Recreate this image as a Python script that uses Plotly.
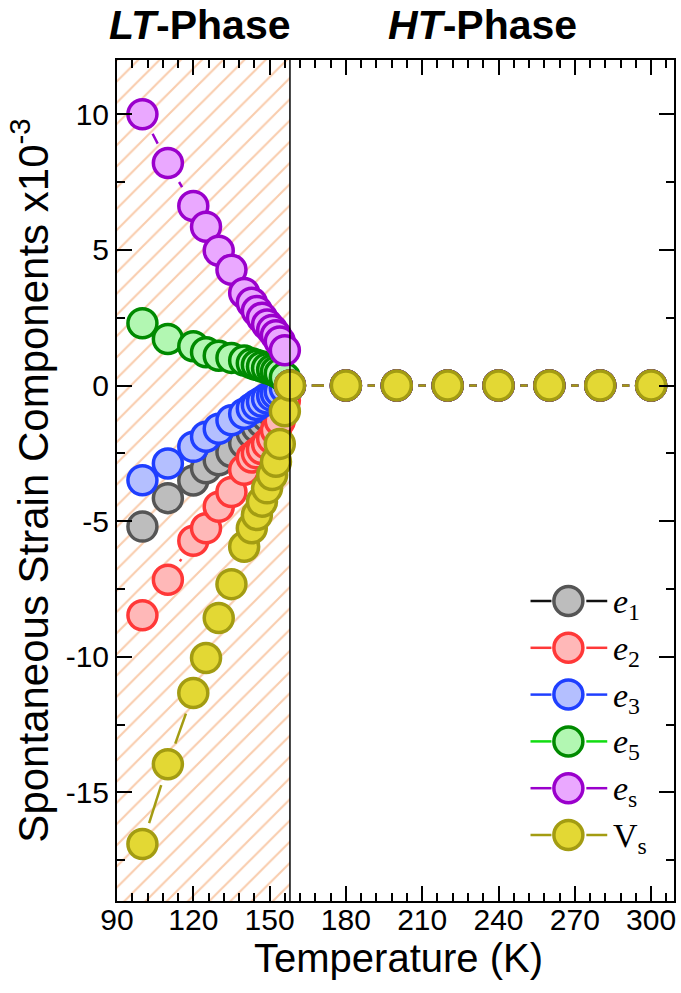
import math
import plotly.graph_objects as go

# Temperature grid (K) and spontaneous strain components (x10^-3)
temperature = [100, 110, 120, 125, 130, 135, 140, 143, 145, 147, 149, 151, 152.5, 154, 156,
               158, 180, 200, 220, 240, 260, 280, 300]
e1 = [-5.2, -4.15, -3.5, -3.05, -2.75, -2.45, -2.12, -1.75, -1.55, -1.35, -1.15, -0.98, -0.8, -0.6, -0.3,
      0, 0, 0, 0, 0, 0, 0, 0]
e2 = [-8.47, -7.16, -5.72, -5.26, -4.47, -3.92, -3.1, -2.65, -2.5, -2.35, -2.15, -1.95, -1.65, -1.3, -0.55,
      0, 0, 0, 0, 0, 0, 0, 0]
e3 = [-3.49, -2.87, -2.26, -1.89, -1.59, -1.28, -1.04, -0.85, -0.72, -0.6, -0.48, -0.38, -0.3, -0.22, -0.1,
      0, 0, 0, 0, 0, 0, 0, 0]
e5 = [2.3, 1.72, 1.45, 1.23, 1.1, 1.02, 0.92, 0.82, 0.76, 0.7, 0.64, 0.58, 0.52, 0.44, 0.3,
      0, 0, 0, 0, 0, 0, 0, 0]
es = [10.0, 8.2, 6.62, 5.85, 4.97, 4.27, 3.41, 3.05, 2.75, 2.5, 2.25, 2.05, 1.85, 1.62, 1.3,
      0, 0, 0, 0, 0, 0, 0, 0]
vs = [-16.9, -13.96, -11.33, -10.04, -8.57, -7.32, -5.94, -5.26, -4.77, -4.28, -3.79, -3.3, -2.81, -2.15, -0.95,
      0, 0, 0, 0, 0, 0, 0, 0]

transition_T = 158
x_ticks = [90, 120, 150, 180, 210, 240, 270, 300]
y_ticks = [-15, -10, -5, 0, 5, 10]

X_RANGE = (90, 309)
Y_RANGE = (-19, 12)

FIG_W, FIG_H = 681, 993
M_L, M_R, M_T, M_B = 117, 5, 60, 92
PLOT_W = FIG_W - M_L - M_R
PLOT_H = FIG_H - M_T - M_B

series = [
    ("<i>e</i><sub>1</sub>", e1, "#bdbdbd", "#555555", "#111111"),
    ("<i>e</i><sub>2</sub>", e2, "#ffb8b8", "#ff3838", "#ff3838"),
    ("<i>e</i><sub>3</sub>", e3, "#b4bfff", "#1f3fff", "#1f3fff"),
    ("<i>e</i><sub>5</sub>", e5, "#b2f7b2", "#008a00", "#11dd11"),
    ("<i>e</i><sub>s</sub>", es, "#eaa8ff", "#9a00cc", "#9a00cc"),
    ("V<sub>s</sub>", vs, "#e3d834", "#a39c12", "#a39c12"),
]

MARKER_SIZE = 29
MARKER_LINE = 3.5
GAP = 22  # px kept clear around each symbol by the connecting line


def to_px(x, y):
    return ((x - X_RANGE[0]) / (X_RANGE[1] - X_RANGE[0]) * PLOT_W,
            (y - Y_RANGE[0]) / (Y_RANGE[1] - Y_RANGE[0]) * PLOT_H)


def gapped_segments(xs, ys, gap):
    sx, sy = [], []
    for xa, ya, xb, yb in zip(xs[:-1], ys[:-1], xs[1:], ys[1:]):
        pa, pb = to_px(xa, ya), to_px(xb, yb)
        d = math.hypot(pb[0] - pa[0], pb[1] - pa[1])
        if d <= 2 * gap:
            continue
        t0, t1 = gap / d, 1 - gap / d
        sx += [xa + (xb - xa) * t0, xa + (xb - xa) * t1, None]
        sy += [ya + (yb - ya) * t0, ya + (yb - ya) * t1, None]
    return sx, sy


fig = go.Figure()

# hatched low-temperature region
fig.add_trace(go.Scatter(
    x=[X_RANGE[0], transition_T, transition_T, X_RANGE[0], X_RANGE[0]],
    y=[Y_RANGE[0], Y_RANGE[0], Y_RANGE[1], Y_RANGE[1], Y_RANGE[0]],
    mode="lines", line=dict(width=0), fill="toself", fillcolor="rgba(0,0,0,0)",
    fillpattern=dict(shape="/", fgcolor="#f39a5c", bgcolor="rgba(0,0,0,0)", size=15, solidity=0.14),
    hoverinfo="skip", showlegend=False,
))

for name, vals, fill, edge, lcol in series:
    sx, sy = gapped_segments(temperature, vals, GAP)
    fig.add_trace(go.Scatter(x=sx, y=sy, mode="lines", line=dict(color=lcol, width=2.5),
                             hoverinfo="skip", showlegend=False))
    fig.add_trace(go.Scatter(
        x=temperature, y=vals, mode="markers", name=name, showlegend=False,
        marker=dict(size=MARKER_SIZE, color=fill, line=dict(color=edge, width=MARKER_LINE)),
    ))

# phase boundary
fig.add_shape(type="line", x0=transition_T, x1=transition_T, y0=0, y1=1, yref="paper",
              line=dict(color="black", width=1.5), layer="above")


def px_x(p):
    return (p - M_L) / PLOT_W


def px_y(p):
    return (FIG_H - M_B - p) / PLOT_H


# legend block
leg_x, leg_y0, leg_dy = 570, 601, 46.8
for i, (name, vals, fill, edge, lcol) in enumerate(series):
    yc = leg_y0 + i * leg_dy
    for a, b in ((532, 553), (588, 609)):
        fig.add_shape(type="line", xref="paper", yref="paper", x0=px_x(a), x1=px_x(b),
                      y0=px_y(yc), y1=px_y(yc), line=dict(color=lcol, width=2.5), layer="above")
    r = MARKER_SIZE / 2
    fig.add_shape(type="circle", xref="paper", yref="paper", xsizemode="pixel", ysizemode="pixel",
                  xanchor=px_x(leg_x), yanchor=px_y(yc), x0=-r, x1=r, y0=-r, y1=r,
                  fillcolor=fill, line=dict(color=edge, width=MARKER_LINE), layer="above")
    fig.add_annotation(xref="paper", yref="paper", x=px_x(613), y=px_y(yc + 3),
                       xanchor="left", yanchor="middle", showarrow=False, text=name,
                       font=dict(family="Liberation Serif", size=34, color="black"))

# phase headings
for label, cx in (("<b><i>LT</i>-Phase</b>", 200), ("<b><i>HT</i>-Phase</b>", 484)):
    fig.add_annotation(xref="paper", yref="paper", x=px_x(cx), y=px_y(25), xanchor="center",
                       yanchor="middle", showarrow=False, text=label,
                       font=dict(family="Liberation Sans", size=41, color="black"))

# x-axis title
fig.add_annotation(xref="paper", yref="paper", x=px_x(400), y=px_y(958), xanchor="center",
                   yanchor="middle", showarrow=False, text="Temperature (K)",
                   font=dict(family="Liberation Sans", size=40, color="black"))

axis_common = dict(
    showgrid=False, zeroline=False, showline=True, linecolor="black", linewidth=2,
    mirror="ticks", ticks="inside", ticklen=15, tickwidth=2, tickcolor="black",
    tickfont=dict(family="Liberation Sans", size=30, color="black"),
)

fig.update_xaxes(
    range=list(X_RANGE), tickvals=x_ticks, ticktext=[str(v) for v in x_ticks],
    minor=dict(ticks="inside", ticklen=8, tickwidth=2, tickcolor="black", dtick=6, tick0=90),
    ticklabelstandoff=-9,
    **axis_common,
)
fig.update_yaxes(
    range=list(Y_RANGE), tickvals=y_ticks, ticktext=[str(v) for v in y_ticks],
    minor=dict(ticks="inside", ticklen=8, tickwidth=2, tickcolor="black", dtick=2.5, tick0=0),
    title=dict(text="Spontaneous Strain Components x10<sup>-3</sup>",
               font=dict(family="Liberation Sans", size=42, color="black"), standoff=4),
    **axis_common,
)

fig.update_layout(
    width=FIG_W, height=FIG_H,
    margin=dict(l=M_L, r=M_R, t=M_T, b=M_B),
    paper_bgcolor="white", plot_bgcolor="white",
    showlegend=False,
)

fig.write_html("out.html")
